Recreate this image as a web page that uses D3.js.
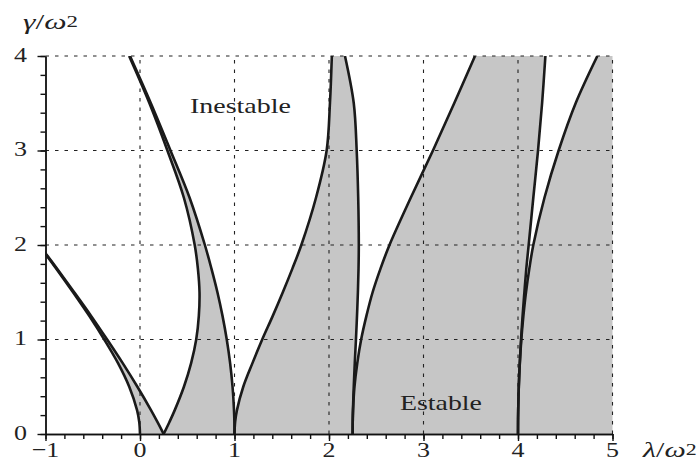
<!DOCTYPE html>
<html><head><meta charset="utf-8">
<script src="https://cdn.jsdelivr.net/npm/d3@7"></script>
<style>body{margin:0;background:#fff} svg{display:block}</style>
</head><body>
<svg id="c" width="699" height="468"></svg>
<script>
// γ/ω² sample levels shared by all boundary curves
const gammaGrid = [0, 0.125, 0.25, 0.5, 0.75, 1, 1.25, 1.5, 1.75, 2, 2.5, 3, 3.5, 4];
// λ/ω² of each transition curve at those γ/ω² levels
const a0 = [0, -0.0078, -0.0305, -0.1138, -0.2325, -0.3785, -0.5375, -0.7086, -0.886, -1.0701, -1.45];
const b1 = [0.25, 0.1856, 0.1177, -0.0276, -0.183, -0.3477, -0.5175, -0.6963, -0.8788, -1.065, -1.4475];
const a1 = [0.25, 0.3105, 0.3667, 0.4648, 0.541, 0.5948, 0.6225, 0.6298, 0.6125, 0.579, 0.4645, 0.29, 0.10, -0.115];
const b2 = [1, 0.9987, 0.9948, 0.9793, 0.9536, 0.9181, 0.8731, 0.8192, 0.756, 0.6867, 0.5249, 0.3225, 0.115, -0.106];
const a2 = [1, 1.0065, 1.0252, 1.0928, 1.19, 1.2932, 1.405, 1.5113, 1.6125, 1.7073, 1.8623, 1.975, 2.01, 2.03];
const b3 = [2.25, 2.2509, 2.2534, 2.2619, 2.2728, 2.2852, 2.2963, 2.3058, 2.3125, 2.3154, 2.3091, 2.293, 2.262, 2.169];
const a3 = [2.25, 2.251, 2.2544, 2.2696, 2.2993, 2.3401, 2.396, 2.4616, 2.545, 2.64, 2.865, 3.10, 3.325, 3.545];
const b4 = [4, 4.0005, 4.0021, 4.0082, 4.0187, 4.0319, 4.0485, 4.0676, 4.088, 4.113, 4.162, 4.212, 4.255, 4.29];
const a4 = [4, 4.0005, 4.0021, 4.0085, 4.0194, 4.0353, 4.057, 4.0845, 4.12, 4.162, 4.28, 4.43, 4.61, 4.84];

const xTicks = [-1, 0, 1, 2, 3, 4, 5];
const xTickLabels = ["\u22121", "0", "1", "2", "3", "4", "5"];
const yTicks = [0, 1, 2, 3, 4];
const yTickLabels = ["0", "1", "2", "3", "4"];
const regionLabels = ["Inestable", "Estable"];

const FONT = '"Liberation Serif","DejaVu Serif",serif';
const svg = d3.select('#c');
const x = d3.scaleLinear().domain([-1, 5]).range([45.5, 612.5]);
const y = d3.scaleLinear().domain([0, 4]).range([434, 56]);
const [x0, x1] = x.domain(), [y0, y1] = y.domain();

const pts = arr => arr.map((l, i) => [l, gammaGrid[i]]);
const line = d3.line().x(d => x(d[0])).y(d => y(d[1])).curve(d3.curveCatmullRom.alpha(0.5));

svg.append('defs').append('clipPath').attr('id', 'clip').append('rect')
  .attr('x', x(x0)).attr('y', y(y1)).attr('width', x(x1) - x(x0)).attr('height', y(y0) - y(y1));

// stable regions (filled)
const band = (A, B) => line(pts(A)) + 'L' + line(pts(B).reverse()).slice(1) + 'Z';
const fills = svg.append('g').attr('clip-path', 'url(#clip)');
const bandPaths = [band(a0, b1), band(a1, b2), band(a2, b3), band(a3, b4),
  line(pts(a4)) + `L${x(x1) + 5},${y(y1) - 5}L${x(x1) + 5},${y(y0)}Z`];
fills.selectAll('path').data(bandPaths).join('path')
  .attr('d', d => d).attr('fill', '#c6c6c6').attr('stroke', 'none');

// grid
const grid = svg.append('g').attr('stroke', '#222').attr('stroke-width', 1.1).attr('stroke-dasharray', '3.5,6');
grid.selectAll('.v').data(xTicks.filter(v => v !== x0)).join('line')
  .attr('x1', d => x(d)).attr('x2', d => x(d)).attr('y1', y(y0)).attr('y2', y(y1));
grid.selectAll('.h').data(yTicks.filter(v => v !== y0)).join('line')
  .attr('x1', x(x0)).attr('x2', x(x1)).attr('y1', d => y(d)).attr('y2', d => y(d));

// axes
const minorX = d3.range(x0, x1 + 1e-9, 0.2);
const minorY = d3.range(y0, y1 + 1e-9, 0.2);
const ax = svg.append('g').attr('class', 'axes');
function styleAxis(g) { g.selectAll('path,line').attr('stroke', '#111').attr('stroke-width', 1.4); g.selectAll('text').remove(); }
ax.append('g').attr('transform', `translate(0,${y(y0)})`)
  .call(d3.axisBottom(x).tickValues(minorX).tickSize(5).tickSizeOuter(0).tickFormat('')).call(styleAxis);
ax.append('g').attr('transform', `translate(0,${y(y0)})`)
  .call(d3.axisBottom(x).tickValues(xTicks).tickSize(7).tickSizeOuter(0).tickFormat('')).call(styleAxis);
ax.append('g').attr('transform', `translate(${x(x0)},0)`)
  .call(d3.axisLeft(y).tickValues(minorY).tickSize(5).tickSizeOuter(0).tickFormat('')).call(styleAxis);
ax.append('g').attr('transform', `translate(${x(x0)},0)`)
  .call(d3.axisLeft(y).tickValues(yTicks).tickSize(8).tickSizeOuter(0).tickFormat('')).call(styleAxis);

// boundary curves
const curves = svg.append('g').attr('clip-path', 'url(#clip)');
curves.selectAll('path').data([a0, b1, a1, b2, a2, b3, a3, b4, a4]).join('path')
  .attr('d', d => line(pts(d))).attr('fill', 'none').attr('stroke', '#1a1a1a')
  .attr('stroke-width', 2.6).attr('stroke-linejoin', 'round');

// text helpers
function fitText(build, left, baseline, width, size) {
  const t = svg.append('text').attr('font-family', FONT).attr('font-size', size).attr('fill', '#222');
  build(t);
  const w = t.node().getBBox().width;
  t.attr('transform', `translate(${left},${baseline}) scale(${width / w},1)`);
  return t;
}
// tick labels
xTicks.forEach((v, i) => {
  svg.append('text').attr('font-family', FONT).attr('font-size', 22).attr('fill', '#222')
    .attr('text-anchor', 'middle').attr('transform', `translate(${x(v)},457) scale(1.18,1)`)
    .text(xTickLabels[i]);
});
yTicks.forEach((v, i) => {
  svg.append('text').attr('font-family', FONT).attr('font-size', 22).attr('fill', '#222')
    .attr('text-anchor', 'end').attr('transform', `translate(27,${y(v) + 5.5}) scale(1.18,1)`)
    .text(yTickLabels[i]);
});
// axis titles
function mathLabel(sym) {
  return t => {
    t.append('tspan').attr('font-style', 'italic').text(sym);
    t.append('tspan').text('/');
    t.append('tspan').attr('font-style', 'italic').text('\u03c9');
    t.append('tspan').attr('font-size', 16).attr('dy', -2).text('2');
  };
}
fitText(mathLabel('\u03b3'), 23, 29, 55, 22);
fitText(mathLabel('\u03bb'), 643, 457, 55, 22);
// region labels
fitText(t => t.text(regionLabels[0]), 190, 112.5, 101, 22);
fitText(t => t.text(regionLabels[1]), 400, 409.5, 82, 22);
</script>
</body></html>
